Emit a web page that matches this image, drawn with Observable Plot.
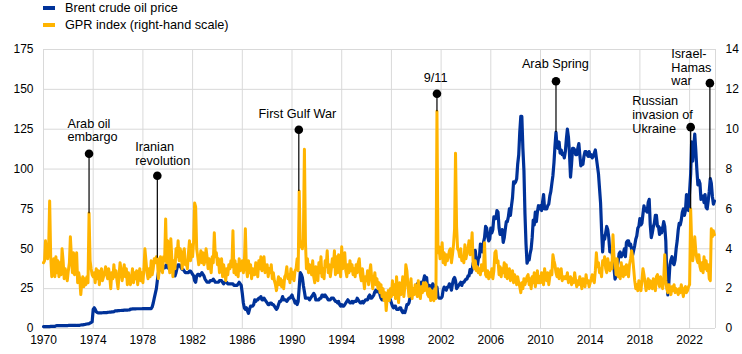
<!DOCTYPE html>
<html><head><meta charset="utf-8">
<script src="https://cdn.jsdelivr.net/npm/d3@7"></script>
<script src="https://cdn.jsdelivr.net/npm/@observablehq/plot@0.6"></script>
<style>
body{margin:0;background:#fff;font-family:"Liberation Sans",Arial,sans-serif;}
#wrap{position:relative;width:742px;height:354px;overflow:hidden;}
.legend{position:absolute;left:43px;font-size:12.7px;line-height:14px;color:#000;white-space:nowrap;}
.sw{display:inline-block;width:12px;height:4px;margin-right:10px;vertical-align:middle;position:relative;top:-1px;}
</style></head>
<body>
<div id="wrap">
  <div class="legend" style="top:1px"><span class="sw" style="background:#003299"></span>Brent crude oil price</div>
  <div class="legend" style="top:18px"><span class="sw" style="background:#ffb400"></span>GPR index (right-hand scale)</div>
</div>
<script>
// Monthly values starting January 1970
const startYear = 1970;
const brentValues = [
/*1970*/1.2,1.2,1.2,1.2,1.2,1.2,1.2,1.3,1.3,1.3,1.3,1.3,
/*1971*/1.7,1.8,1.8,1.8,1.8,1.8,1.8,1.8,1.8,1.8,1.8,1.8,
/*1972*/1.9,1.9,1.9,1.9,1.9,1.9,1.9,1.9,1.9,2.0,2.0,2.0,
/*1973*/2.2,2.3,2.3,2.4,2.5,2.7,2.8,2.9,3.0,3.5,3.8,4.2,
/*1974*/12.0,13.0,12.0,10.5,10.0,9.8,9.8,9.8,9.8,9.9,10.0,10.0,
/*1975*/10.0,10.0,10.1,10.2,10.3,10.3,10.4,10.4,10.5,11.0,11.0,11.0,
/*1976*/11.2,11.2,11.3,11.3,11.4,11.4,11.5,11.5,11.5,11.5,11.6,11.6,
/*1977*/12.2,12.2,12.3,12.3,12.3,12.3,12.4,12.4,12.4,12.4,12.4,12.4,
/*1978*/12.5,12.5,12.5,12.5,12.5,12.5,12.5,12.5,12.5,13.5,16,19,
/*1979*/22,25,30,35,37,39,41,40,39,38,39,40,
/*1980*/38,38,39,38,37,38,36,33,35,38,40,40,
/*1981*/39,38,37,37,36,35,35,35,35,36,36,35,
/*1982*/34,33,30,29,33,34,34,33,34,35,34,33,
/*1983*/31,30,29,29,29,30,30,30,31,30,29,29,
/*1984*/29,29,30,30,30,29,28,29,29,29,28,28,
/*1985*/28,28,28,28,27,27,27,27,28,29,28,27,
/*1986*/22,16,13,12,13,11,9.5,12,14,14,14,15,
/*1987*/18,17,18,18,19,19,20,18,18,19,18,17,
/*1988*/16,15,15,16,16,15,15,14,13,12,13,15,
/*1989*/17,17,18,20,18,18,18,17,18,19,19,20,
/*1990*/21,19,18,16,17,15,17,26,35,34,32,27,
/*1991*/23,19,19,19,19,18,19,20,21,22,21,18,
/*1992*/18,18,18,19,19,21,21,20,21,20,19,18,
/*1993*/18,18,19,19,19,18,17,17,16,17,15,14,
/*1994*/15,14,14,15,16,17,18,17,16,16,17,16,
/*1995*/17,17,17,19,18,17,16,16,17,16,17,18,
/*1996*/18,18,20,21,19,19,20,21,23,24,23,24,
/*1997*/24,21,19,18,19,18,19,19,19,21,19,18,
/*1998*/16,14,13,14,14,12,12,12,13,13,11,10,
/*1999*/11,10,12,15,15,16,19,20,22,22,24,25,
/*2000*/25,28,27,22,27,29,28,30,33,31,32,25,
/*2001*/25,27,24,25,28,27,25,26,26,20,19,19,
/*2002*/19,20,24,26,25,24,26,26,28,27,24,28,
/*2003*/31,32,30,25,26,27,28,29,27,29,29,30,
/*2004*/31,31,33,33,37,35,37,41,42,49,43,39,
/*2005*/44,45,53,52,48,54,57,64,63,58,55,56,
/*2006*/63,60,62,70,70,69,74,73,63,59,59,62,
/*2007*/54,57,62,67,67,70,75,71,77,82,92,91,
/*2008*/92,94,103,109,123,133,133,113,99,72,53,41,
/*2009*/43,43,47,50,57,68,65,73,67,73,77,75,
/*2010*/77,74,79,84,75,75,75,77,78,83,86,91,
/*2011*/96,104,114,123,114,113,117,110,112,109,110,107,
/*2012*/111,119,125,120,110,95,103,113,113,112,109,109,
/*2013*/113,116,109,102,103,103,108,111,111,109,108,111,
/*2014*/108,109,107,108,110,112,107,102,97,88,79,62,
/*2015*/48,58,56,60,64,62,57,48,48,48,44,38,
/*2016*/31,33,39,42,47,48,45,46,47,50,45,54,
/*2017*/55,55,52,53,50,46,49,52,56,58,63,64,
/*2018*/69,65,66,72,77,74,74,73,79,81,65,57,
/*2019*/60,64,66,71,71,64,64,59,63,60,63,67,
/*2020*/64,55,33,21,29,40,43,45,41,40,43,50,
/*2021*/55,62,66,65,68,73,75,71,74,84,81,74,
/*2022*/86,97,117,105,113,122,112,100,90,93,91,81,
/*2023*/83,83,79,84,76,75,80,86,94,91,83,78,
/*2024*/80
];
const gprValues = [
/*1970*/3.3,3.4,4.4,3.8,3.5,4.0,6.4,3.6,2.6,3.1,3.5,2.6,
/*1971*/3.6,2.8,3.4,2.6,3.3,2.7,4.0,3.4,2.5,3.0,2.7,2.4,
/*1972*/2.9,3.3,4.6,3.6,2.8,3.8,2.7,3.0,3.8,2.3,2.8,2.5,
/*1973*/1.7,2.3,2.6,2.1,2.5,2.2,2.6,2.3,5.8,3.4,3.0,2.7,
/*1974*/2.6,2.8,2.3,3.0,2.5,2.9,2.2,2.7,3.0,2.4,2.6,2.8,
/*1975*/3.1,2.7,2.5,3.0,2.6,2.0,2.8,2.5,3.2,2.6,2.9,2.4,
/*1976*/2.0,2.7,3.3,2.9,2.4,2.8,3.2,2.6,3.0,2.2,2.8,2.5,
/*1977*/2.2,2.6,3.0,2.3,2.8,2.5,2.9,2.2,2.7,3.0,2.4,2.8,
/*1978*/2.3,3.0,4.0,3.4,2.8,2.5,3.0,2.6,3.4,2.7,3.0,3.5,
/*1979*/3.3,3.6,3.5,2.5,3.0,3.6,3.3,2.8,3.6,3.4,5.5,3.3,
/*1980*/4.4,3.2,2.8,4.5,3.5,2.6,3.4,3.0,4.0,3.6,4.4,3.4,
/*1981*/4.0,3.7,3.0,3.8,4.0,3.2,3.3,3.0,3.8,4.4,3.4,4.2,
/*1982*/3.6,4.4,6.3,6.1,4.0,3.6,3.2,3.4,3.9,3.3,3.8,3.2,
/*1983*/3.4,4.0,3.6,3.0,3.5,3.2,2.8,3.6,3.3,4.8,3.6,3.8,
/*1984*/3.2,3.5,2.8,3.0,3.5,2.6,3.2,2.8,2.4,3.0,2.7,3.2,
/*1985*/3.0,3.4,3.1,4.9,2.8,3.4,2.7,3.2,2.6,3.5,2.9,3.0,
/*1986*/3.4,2.8,3.2,5.0,3.0,2.6,3.4,2.8,3.2,2.5,3.0,2.7,
/*1987*/2.7,3.3,3.0,2.6,3.4,3.0,3.6,2.9,3.3,3.6,2.8,3.0,
/*1988*/3.2,2.6,3.0,2.8,3.2,2.5,2.8,2.4,2.2,1.9,2.3,2.6,
/*1989*/2.2,2.5,2.1,2.4,2.0,2.6,2.7,3.1,2.5,2.7,2.3,3.0,
/*1990*/2.5,2.8,2.4,2.9,3.0,3.5,2.9,6.9,4.1,4.3,4.0,4.5,
/*1991*/9.0,4.3,3.0,3.5,2.8,3.2,3.0,2.7,3.4,2.6,2.3,3.1,
/*1992*/3.0,2.4,3.3,2.8,3.6,2.6,3.0,2.5,3.4,3.1,3.9,2.8,
/*1993*/3.2,2.6,3.0,3.5,3.1,3.9,2.7,3.6,2.8,3.7,3.0,2.6,
/*1994*/4.1,3.0,3.6,3.8,2.9,2.6,3.2,2.8,3.4,2.9,3.2,2.7,
/*1995*/3.0,2.6,3.2,2.8,3.3,3.5,2.7,2.4,3.0,2.5,2.0,2.6,
/*1996*/2.4,2.9,2.2,2.8,3.2,2.5,2.0,2.4,2.8,2.2,2.5,2.0,
/*1997*/2.3,1.8,2.2,1.6,2.0,1.4,1.8,0.9,1.6,1.9,1.4,2.0,
/*1998*/1.6,2.4,1.7,2.2,1.5,2.6,1.8,1.3,2.3,1.7,2.0,2.6,
/*1999*/1.6,2.1,3.2,2.9,2.2,1.6,1.9,2.5,1.5,2.0,1.7,2.2,
/*2000*/2.0,1.6,2.4,1.9,1.5,2.1,1.8,2.3,1.9,2.3,2.2,1.7,
/*2001*/1.6,2.0,1.4,1.9,1.5,1.4,2.0,1.5,10.9,3.8,4.1,3.5,
/*2002*/3.6,4.3,3.3,3.8,3.2,3.7,3.4,3.6,3.9,4.0,3.3,3.7,
/*2003*/4.2,5.0,8.8,5.1,4.0,3.9,3.6,4.0,3.4,3.6,3.3,4.2,
/*2004*/3.5,3.8,4.0,4.4,3.7,4.0,4.8,3.2,3.0,3.4,2.9,3.1,
/*2005*/2.8,3.0,2.7,3.2,2.9,3.0,4.3,2.7,2.6,2.9,2.5,2.8,
/*2006*/2.6,3.0,2.5,2.9,3.8,3.9,3.3,3.4,2.7,3.1,2.6,3.0,
/*2007*/2.8,3.3,2.6,3.2,2.5,2.7,3.0,2.4,2.6,2.9,2.3,2.7,
/*2008*/2.5,2.2,2.6,2.3,2.1,1.8,2.3,2.0,2.5,2.2,2.4,2.6,
/*2009*/2.7,2.2,2.5,2.0,2.6,2.3,2.8,2.1,2.4,2.9,2.3,2.6,
/*2010*/2.3,2.8,2.5,2.2,3.0,2.6,2.4,2.8,2.2,2.6,2.9,2.7,
/*2011*/3.7,3.4,3.2,2.8,2.6,3.0,2.5,2.7,3.0,2.4,2.6,2.5,
/*2012*/2.6,2.5,2.8,2.3,2.4,2.6,2.2,2.5,2.3,2.8,2.4,2.1,
/*2013*/2.4,2.2,2.6,2.3,2.0,2.5,2.2,2.1,2.7,2.3,2.4,2.1,
/*2014*/2.3,2.5,2.7,2.4,2.3,2.9,3.8,3.1,3.3,2.8,3.0,2.6,
/*2015*/3.4,3.2,3.6,3.0,2.8,3.5,3.1,2.9,3.3,3.0,4.7,3.6,
/*2016*/3.4,2.7,3.5,2.6,3.0,2.5,3.3,2.8,2.6,3.1,2.7,3.2,
/*2017*/2.9,2.6,3.2,3.5,3.9,3.6,3.0,2.4,2.0,2.2,1.9,2.4,
/*2018*/2.2,1.9,2.4,3.0,2.7,2.3,1.9,2.2,2.5,2.0,2.4,2.1,
/*2019*/2.0,2.5,2.2,1.9,2.6,2.7,2.3,2.1,2.6,2.2,2.0,2.4,
/*2020*/3.7,2.4,2.0,1.8,2.2,2.0,1.7,2.1,1.9,2.2,1.8,2.0,
/*2021*/1.9,1.7,2.0,1.8,2.2,1.9,1.6,2.0,2.1,1.8,1.9,2.1,
/*2022*/2.2,6.0,4.4,3.4,3.8,4.6,3.9,3.5,3.3,3.7,3.1,2.9,
/*2023*/3.3,2.8,3.6,3.0,3.4,2.9,3.2,2.5,2.4,5.0,4.6,4.9,
/*2024*/4.7
];
const xTickYears = [1970,1974,1978,1982,1986,1990,1994,1998,2002,2006,2010,2014,2018,2022];
const leftTicks = [0,25,50,75,100,125,150,175];
const rightTicks = [0,2,4,6,8,10,12,14];

const eventLabels = ["Arab oil\nembargo","Iranian\nrevolution","First Gulf War","9/11","Arab Spring","Russian\ninvasion of\nUkraine","Israel-\nHamas\nwar"];
const eventDates = ["1973-09-01","1979-03-01","1990-07-20","2001-09-01","2011-04-01","2022-02-01","2023-08-20"];
const eventDotValues = [109.6,95.8,124.7,147.2,155.1,126.3,153.9];
const eventLineEnds = [72,44,86,136,123,75,93];
const eventLabelDates = ["1971-12-05","1977-05-20","1990-06-10","2001-07-25","2011-03-15","2017-05-20","2020-07-10"];
const eventLabelValues = [124.5,110,135,157.7,166.4,134.3,164];
const eventLabelAnchors = ["start","start","middle","middle","middle","start","start"];

// scale ratio between left (Brent) axis and right (GPR) axis
const ratio = leftTicks[leftTicks.length-1] / rightTicks[rightTicks.length-1];

const monthDate = i => new Date(Date.UTC(startYear, i, 1));
const brent = brentValues.map((v,i)=>({date:monthDate(i), value:v}));
const gpr = gprValues.map((v,i)=>({date:monthDate(i), value:v*ratio}));
const events = eventLabels.map((label,i)=>({
  label, date:new Date(eventDates[i]), dot:eventDotValues[i], end:eventLineEnds[i],
  ldate:new Date(eventLabelDates[i]), lvalue:eventLabelValues[i], anchor:eventLabelAnchors[i]
}));
const xTicks = xTickYears.map(y=>new Date(Date.UTC(y,0,1)));
const xEnd = new Date(Date.UTC(2024,1,1));
const grid = "#d9d9d9";

const chart = Plot.plot({
  width:742, height:354,
  marginLeft:43, marginRight:27, marginTop:49, marginBottom:26,
  style:{fontFamily:"'Liberation Sans', Arial, sans-serif", fontSize:"12px", color:"#000", background:"transparent"},
  x:{type:"utc", domain:[new Date(Date.UTC(startYear,0,1)), xEnd]},
  y:{domain:[0,175]},
  marks:[
    Plot.gridY(leftTicks, {stroke:grid, strokeOpacity:1, strokeWidth:1}),
    Plot.gridX(xTicks, {stroke:grid, strokeOpacity:1, strokeWidth:1}),
    Plot.ruleX([xEnd], {stroke:grid, strokeWidth:1}),
    Plot.axisY(leftTicks, {anchor:"left", tickSize:0, tickPadding:10, label:null, fontSize:12}),
    Plot.axisY(rightTicks.map(v=>v*ratio), {anchor:"right", tickSize:0, tickPadding:10, label:null, tickFormat:d=>d3.format("d")(d/ratio), fontSize:12}),
    Plot.axisX(xTicks, {anchor:"bottom", tickSize:0, tickPadding:7, label:null, tickFormat:d3.utcFormat("%Y"), fontSize:12}),
    Plot.lineY(brent, {x:"date", y:"value", stroke:"#003299", strokeWidth:3.2, strokeLinejoin:"round"}),
    Plot.lineY(gpr, {x:"date", y:"value", stroke:"#ffb400", strokeWidth:3, strokeLinejoin:"round"}),
    Plot.ruleX(events, {x:"date", y1:"end", y2:"dot", stroke:"#000", strokeWidth:1.2}),
    Plot.dot(events, {x:"date", y:"dot", r:4.3, fill:"#000", stroke:"none"}),
    Plot.text(events.filter(d=>d.anchor==="start"), {x:"ldate", y:"lvalue", text:"label", textAnchor:"start", lineHeight:1.1, fontSize:12.7, fill:"#000"}),
    Plot.text(events.filter(d=>d.anchor==="middle"), {x:"ldate", y:"lvalue", text:"label", textAnchor:"middle", lineHeight:1.1, fontSize:12.7, fill:"#000"})
  ]
});
chart.style.position = "absolute";
chart.style.left = "0";
chart.style.top = "0";
document.getElementById("wrap").prepend(chart);
</script>
</body></html>
